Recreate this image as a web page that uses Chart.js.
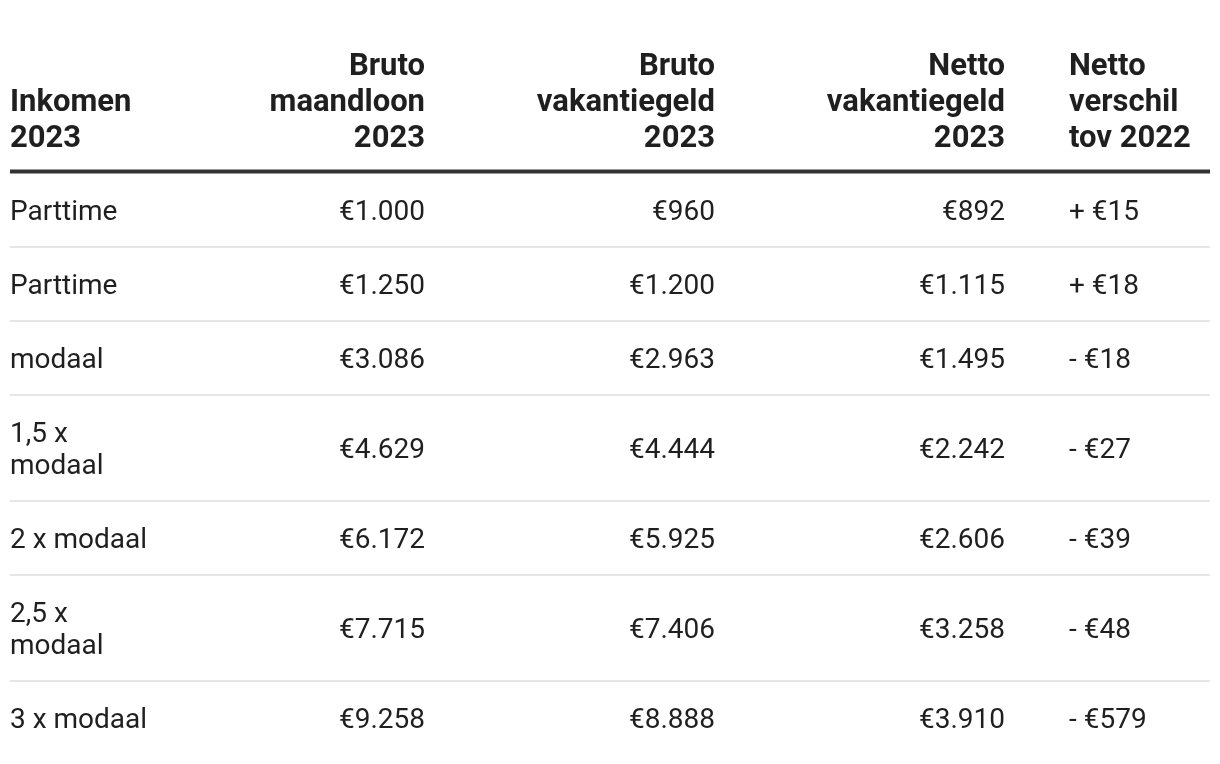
<!DOCTYPE html>
<html>
<head>
<meta charset="utf-8">
<script src="https://cdn.jsdelivr.net/npm/chart.js@4.4.0/dist/chart.umd.min.js"></script>
<style>
  html, body { margin: 0; padding: 0; background: #fff; }
  canvas { display: block; }
</style>
</head>
<body>
<canvas id="myChart" width="1220" height="764"></canvas>
<script>
// table data
const columnHeaders = ['Inkomen 2023', 'Bruto maandloon 2023', 'Bruto vakantiegeld 2023', 'Netto vakantiegeld 2023', 'Netto verschil tov 2022'];
const categories = ['Parttime', 'Parttime', 'modaal', '1,5 x modaal', '2 x modaal', '2,5 x modaal', '3 x modaal'];
const brutoMaandloon = [1000, 1250, 3086, 4629, 6172, 7715, 9258];
const brutoVakantiegeld = [960, 1200, 2963, 4444, 5925, 7406, 8888];
const nettoVakantiegeld = [892, 1115, 1495, 2242, 2606, 3258, 3910];
const nettoVerschil = [15, 18, -18, -27, -39, -48, -579];

// layout of the columns (x in px, text anchor)
const colAnchor = [10, 425, 715, 1005, 1069];
const colAlign = ['left', 'right', 'right', 'right', 'left'];
const colWrap = [150, 200, 200, 200, 140];

const textColor = '#1f1f1f';
const fontFamily = 'Roboto, "Noto Sans", sans-serif';

function thousands(n) {
	return String(Math.abs(n)).replace(/\B(?=(\d{3})+(?!\d))/g, '.');
}
const euro = v => '€' + thousands(v);
const diff = v => (v < 0 ? '- ' : '+ ') + '€' + thousands(v);

const columns = [
	categories,
	brutoMaandloon.map(euro),
	brutoVakantiegeld.map(euro),
	nettoVakantiegeld.map(euro),
	nettoVerschil.map(diff)
];

function wrap(ctx, text, maxWidth) {
	const words = text.split(' ');
	const lines = [];
	let line = '';
	words.forEach(w => {
		const test = line ? line + ' ' + w : w;
		if (line && ctx.measureText(test).width > maxWidth) {
			lines.push(line);
			line = w;
		} else {
			line = test;
		}
	});
	if (line) lines.push(line);
	return lines;
}

const tablePlugin = {
	id: 'tableCells',
	afterDraw(chart) {
		const { ctx, scales: { x, y } } = chart;
		ctx.save();
		ctx.fillStyle = textColor;

		// header, bottom aligned
		const headSize = 31;
		ctx.font = `bold ${headSize}px ${fontFamily}`;
		const headLastCenter = 135.5;
		const headLine = 36;
		columnHeaders.forEach((h, c) => {
			const lines = wrap(ctx, h, colWrap[c]);
			ctx.textAlign = colAlign[c];
			lines.forEach((l, i) => {
				const cy = headLastCenter - headLine * (lines.length - 1 - i);
				ctx.fillText(l, x.getPixelForValue(colAnchor[c]), y.getPixelForValue(cy + headSize * 0.711 / 2));
			});
		});

		// thick rule under the header
		ctx.fillStyle = '#333333';
		ctx.fillRect(x.getPixelForValue(10), y.getPixelForValue(169.5), x.getPixelForValue(1210) - x.getPixelForValue(10), 4);

		// body rows
		const bodySize = 28;
		const lineH = 32;
		ctx.font = `${bodySize}px ${fontFamily}`;
		let top = 173;
		categories.forEach((cat, r) => {
			const cellLines = columns.map((col, c) => wrap(ctx, col[r], colWrap[c]));
			const n = Math.max(...cellLines.map(l => l.length));
			const h = 42 + lineH * n;
			const mid = top + h / 2;
			ctx.fillStyle = textColor;
			cellLines.forEach((lines, c) => {
				ctx.textAlign = colAlign[c];
				lines.forEach((l, i) => {
					const cy = mid + (i - (lines.length - 1) / 2) * lineH;
					ctx.fillText(l, x.getPixelForValue(colAnchor[c]), y.getPixelForValue(cy + bodySize * 0.711 / 2));
				});
			});
			top += h;
			if (r < categories.length - 1) {
				ctx.fillStyle = '#e6e6e6';
				ctx.fillRect(x.getPixelForValue(10), y.getPixelForValue(top - 1), x.getPixelForValue(1210) - x.getPixelForValue(10), 2);
			}
		});
		ctx.restore();
	}
};

const ctx = document.getElementById('myChart').getContext('2d');
const myChart = new Chart(ctx, {
	type: 'scatter',
	data: { datasets: [] },
	options: {
		responsive: false,
		animation: false,
		layout: { padding: 0 },
		scales: {
			x: { type: 'linear', min: 0, max: 1220, display: false },
			y: { type: 'linear', min: 0, max: 764, reverse: true, display: false }
		},
		plugins: { legend: { display: false }, tooltip: { enabled: false } }
	},
	plugins: [tablePlugin]
});
</script>
</body>
</html>
